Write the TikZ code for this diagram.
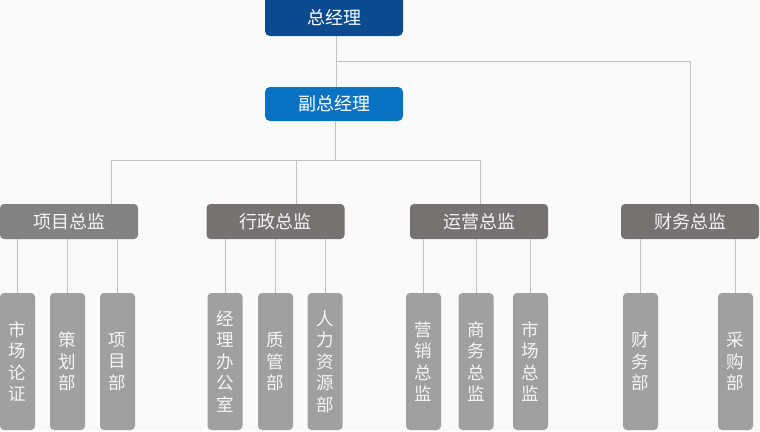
\documentclass[tikz,border=0pt]{standalone}
\usepackage{fontspec}
\newfontfamily\cjk{Noto Sans CJK SC}
\definecolor{bgc}{HTML}{FAFAFA}
\definecolor{gmblue}{HTML}{0B4A8F}
\definecolor{vgmblue}{HTML}{0A72C2}
\definecolor{graya}{HTML}{828282}
\definecolor{grayb}{HTML}{767271}
\definecolor{grayc}{HTML}{A0A0A0}
\definecolor{linec}{HTML}{C2C2C2}
\definecolor{txtc}{HTML}{F4F4F4}
\tikzset{
  topbox/.style={draw=none, rounded corners=5pt, minimum width=138pt, text=white,
    font=\cjk\fontsize{18}{21}\selectfont, inner sep=0pt},
  midbox/.style={draw=none, rounded corners=4pt, minimum width=138pt, minimum height=35pt,
    text=txtc, font=\cjk\fontsize{18}{21}\selectfont, inner sep=0pt},
  leafbox/.style={fill=grayc, rounded corners=4pt, minimum width=35pt, minimum height=137pt,
    text=txtc, font=\cjk\fontsize{17.5}{21.5}\selectfont, align=center, inner sep=0pt, text width=35pt},
  conn/.style={draw=linec, line width=1pt}
}
\begin{document}
\begin{tikzpicture}[x=1pt,y=-1pt]
\useasboundingbox[fill=bgc] (0,0) rectangle (760,431);
% top level
\node[topbox, fill=gmblue, minimum height=42pt] (gm) at (334,15) {};
\node[font=\cjk\fontsize{18}{21}\selectfont, text=white] (gmt) at (334,17.5) {总经理};
\node[topbox, fill=vgmblue, minimum height=34pt] (vgm) at (334,104) {副总经理};
% second level
\node[midbox, fill=graya] (proj) at (69,221.5) {项目总监};
\node[midbox, fill=grayb] (adm) at (275.5,221.5) {行政总监};
\node[midbox, fill=grayb] (ops) at (479,221.5) {运营总监};
\node[midbox, fill=grayb] (fin) at (690,221.5) {财务总监};
% leaves
\node[leafbox] (l1) at (17.5,361.5) {市\\场\\论\\证};
\node[leafbox] (l2) at (67.5,361.5) {策\\划\\部};
\node[leafbox] (l3) at (117.5,361.5) {项\\目\\部};
\node[leafbox] (l4) at (225,361.5) {经\\理\\办\\公\\室};
\node[leafbox] (l5) at (275.5,361.5) {质\\管\\部};
\node[leafbox] (l6) at (325,361.5) {人\\力\\资\\源\\部};
\node[leafbox] (l7) at (423.5,361.5) {营\\销\\总\\监};
\node[leafbox] (l8) at (476,361.5) {商\\务\\总\\监};
\node[leafbox] (l9) at (530.5,361.5) {市\\场\\总\\监};
\node[leafbox] (l10) at (640.5,361.5) {财\\务\\部};
\node[leafbox] (l11) at (735.5,361.5) {采\\购\\部};
% connectors
\coordinate (h1) at (336,61);
\coordinate (h2) at (335,160);
\coordinate (b1) at (111,160);
\coordinate (b2) at (296,160);
\coordinate (b3) at (480,160);
\draw[conn] (h1 |- gm.south) -- (h1 |- vgm.north);
\draw[conn] (h1) -| (fin.north);
\draw[conn] (h2 |- vgm.south) -- (h2);
\draw[conn] (b1) -- (b3);
\draw[conn] (b1) -- (b1 |- proj.north);
\draw[conn] (b2) -- (b2 |- adm.north);
\draw[conn] (b3) -- (b3 |- ops.north);
\foreach \p/\c in {proj/l1, proj/l2, proj/l3, adm/l4, adm/l5, adm/l6, ops/l7, ops/l8, ops/l9, fin/l10, fin/l11}{
  \draw[conn] (\c.north |- \p.south) -- (\c.north);
}
\end{tikzpicture}
\end{document}
